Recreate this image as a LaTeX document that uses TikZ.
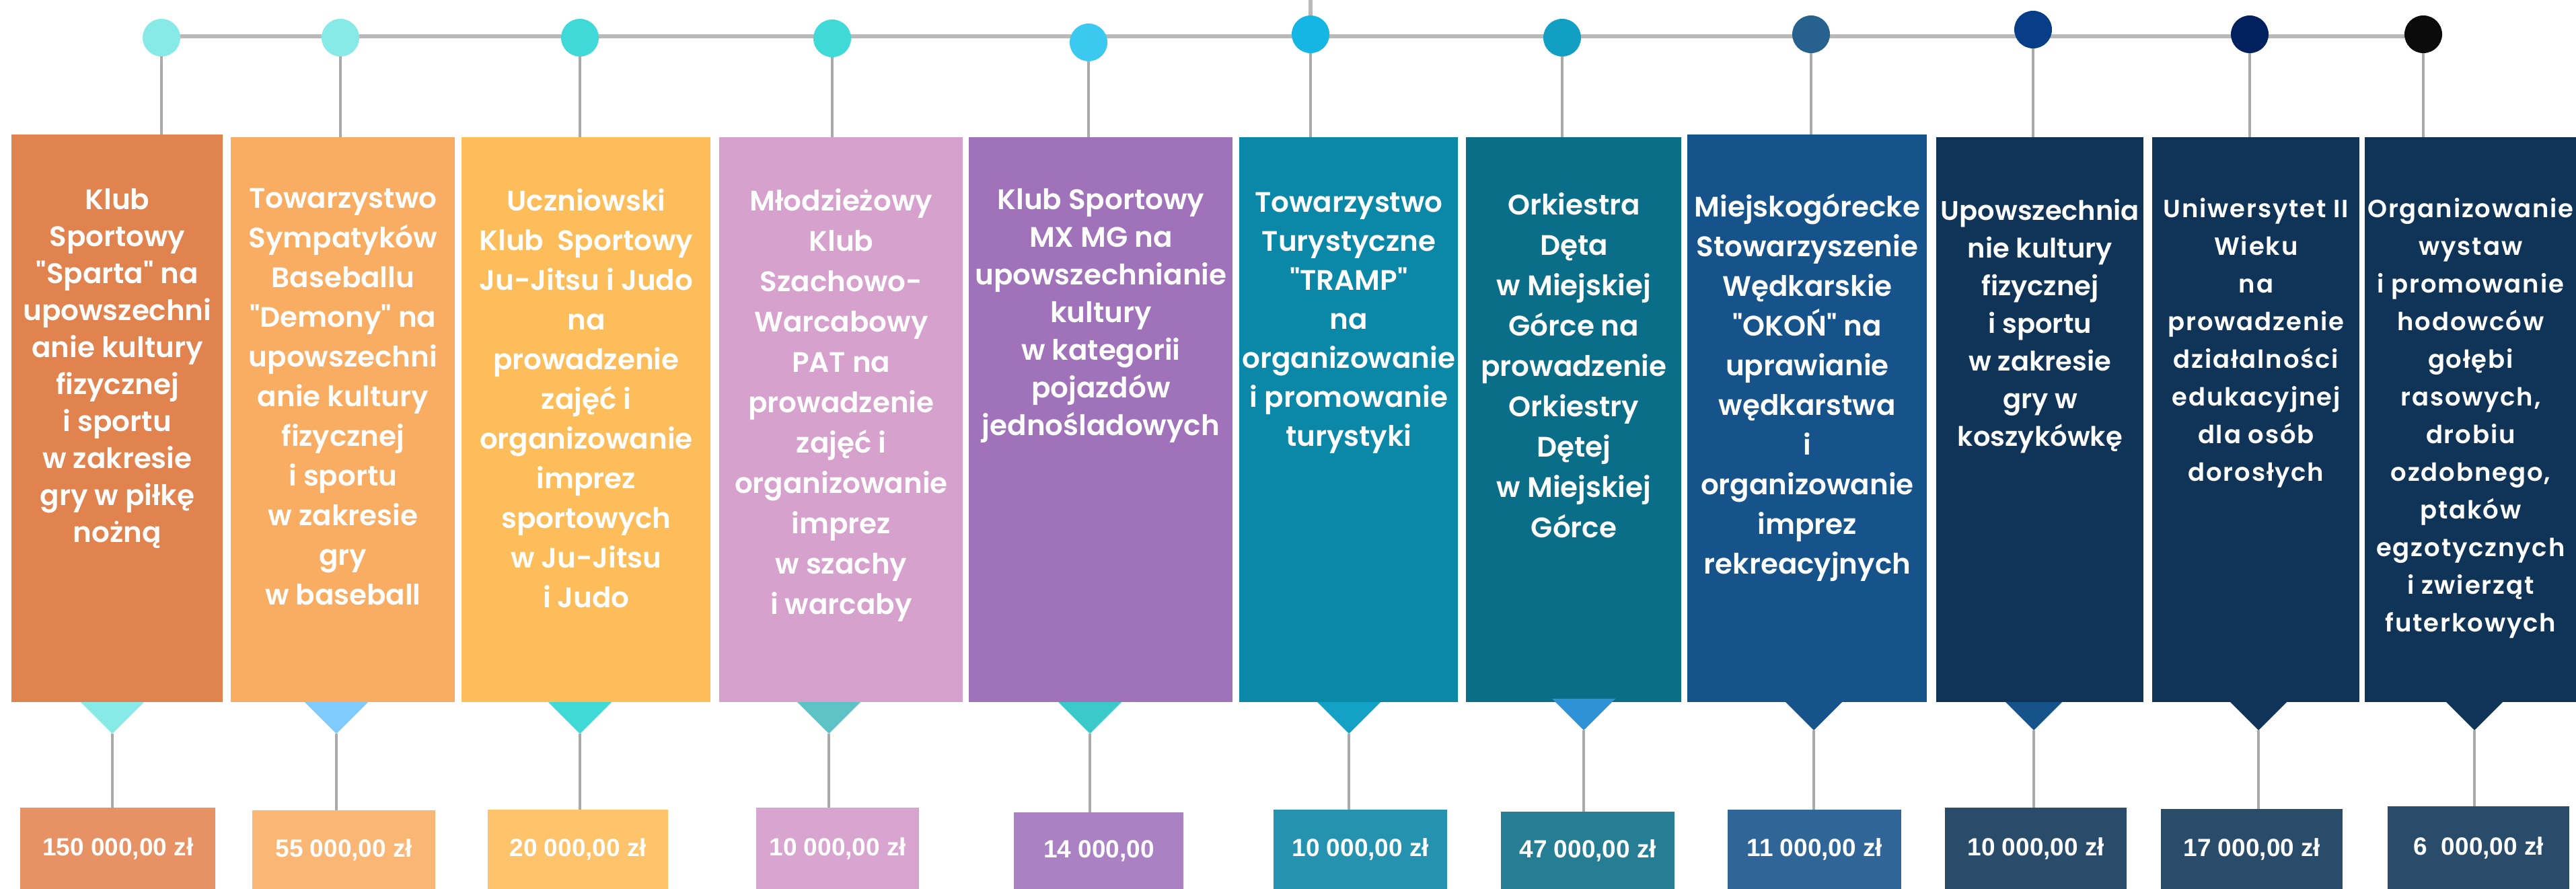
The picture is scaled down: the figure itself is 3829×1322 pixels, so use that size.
\documentclass[tikz,border=0pt]{standalone}
\usepackage{fontspec}
\setmainfont{Poppins}
\newfontfamily\panelfont{Poppins SemiBold}
\newfontfamily\widepanelfont[LetterSpace=5]{Poppins SemiBold}
\newfontfamily\sumfont{Liberation Sans}
\usetikzlibrary{backgrounds}

\definecolor{railgray}{HTML}{B9B9B9}
\definecolor{stemgray}{HTML}{AAAAAA}
\definecolor{kOrange}{HTML}{E0834F}
\definecolor{kApricot}{HTML}{F8AD62}
\definecolor{kAmber}{HTML}{FDBD5A}
\definecolor{kOrchid}{HTML}{D6A1CC}
\definecolor{kViolet}{HTML}{A072BA}
\definecolor{kTeal}{HTML}{0B88A8}
\definecolor{kPetrol}{HTML}{0B6E88}
\definecolor{kCobalt}{HTML}{15538A}
\definecolor{kNavy}{HTML}{0F3457}
\definecolor{sOrange}{HTML}{E69265}
\definecolor{sApricot}{HTML}{FAB674}
\definecolor{sAmber}{HTML}{FEC36B}
\definecolor{sOrchid}{HTML}{D8A5D0}
\definecolor{sViolet}{HTML}{AA82C4}
\definecolor{sTeal}{HTML}{2592B0}
\definecolor{sPetrol}{HTML}{267E94}
\definecolor{sCobalt}{HTML}{306598}
\definecolor{sNavy}{HTML}{294C6B}
\definecolor{dAqua}{HTML}{88EAE7}
\definecolor{dTurq}{HTML}{3FD9D8}
\definecolor{dSky}{HTML}{3BC9EF}
\definecolor{dCyan}{HTML}{14B7E4}
\definecolor{dCerul}{HTML}{119FC4}
\definecolor{dSteel}{HTML}{27628F}
\definecolor{dRoyal}{HTML}{083D88}
\definecolor{dMidnight}{HTML}{00205E}
\definecolor{dBlack}{HTML}{0B0B0B}
\definecolor{tBlue}{HTML}{7FCAFE}
\definecolor{tSea}{HTML}{5EC3C4}
\definecolor{tMint}{HTML}{3BCACA}
\definecolor{tCerul}{HTML}{13A2C5}
\definecolor{tAzure}{HTML}{2E92D6}

\tikzset{
  bead/.style={circle, inner sep=0pt, minimum size=28pt},
  panel/.style={rectangle, inner sep=0pt, anchor=north west},
  blurb/.style={anchor=north, inner sep=0pt, align=center, text=white,
    font=\panelfont\fontsize{21}{#1}\selectfont},
  blurb/.default=28,
  wideblurb/.style={blurb, font=\widepanelfont\fontsize{18.5}{28}\selectfont},
  amount/.style={rectangle, inner sep=0pt, anchor=north west, text=white,
    font=\sumfont\bfseries\fontsize{18.5}{20}\selectfont},
  rail/.style={draw=railgray, line width=3pt},
  stem/.style={draw=stemgray, line width=2pt},
}

\begin{document}
\begin{tikzpicture}[x=0.5pt, y=-0.5pt]
\useasboundingbox (0,0) rectangle (3829,1322);

\node[bead, fill=dAqua] (c1) at (240,56) {};
\node[bead, fill=dAqua] (c2) at (506,56) {};
\node[bead, fill=dTurq] (c3) at (862,56) {};
\node[bead, fill=dTurq] (c4) at (1237,57) {};
\node[bead, fill=dSky] (c5) at (1618,63) {};
\node[bead, fill=dCyan] (c6) at (1948,51) {};
\node[bead, fill=dCerul] (c7) at (2322,56) {};
\node[bead, fill=dSteel] (c8) at (2692,51) {};
\node[bead, fill=dRoyal] (c9) at (3022,44) {};
\node[bead, fill=dMidnight] (c10) at (3344,51) {};
\node[bead, fill=dBlack] (c11) at (3602,51) {};

\node[panel, fill=kOrange, minimum width=157pt, minimum height=422pt] (b1) at (17,200) {};
\node[panel, fill=kApricot, minimum width=166.5pt, minimum height=420pt] (b2) at (343,204) {};
\node[panel, fill=kAmber, minimum width=185pt, minimum height=420pt] (b3) at (686,204) {};
\node[panel, fill=kOrchid, minimum width=181pt, minimum height=420pt] (b4) at (1069,204) {};
\node[panel, fill=kViolet, minimum width=196pt, minimum height=420pt] (b5) at (1440,204) {};
\node[panel, fill=kTeal, minimum width=162.5pt, minimum height=420pt] (b6) at (1842,204) {};
\node[panel, fill=kPetrol, minimum width=160pt, minimum height=420pt] (b7) at (2179,204) {};
\node[panel, fill=kCobalt, minimum width=178pt, minimum height=422pt] (b8) at (2508,200) {};
\node[panel, fill=kNavy, minimum width=154pt, minimum height=420pt] (b9) at (2878,204) {};
\node[panel, fill=kNavy, minimum width=154pt, minimum height=420pt] (b10) at (3199,204) {};
\node[panel, fill=kNavy, minimum width=157pt, minimum height=420pt] (b11) at (3515,204) {};

\node[blurb=27.5] (n1) at ([yshift=-40pt]b1.north) {Klub\\Sportowy\\"Sparta" na\\upowszechni\\anie kultury\\fizycznej\\i sportu\\w zakresie\\gry w piłkę\\nożną};
\node[blurb=29.5] (n2) at ([yshift=-38pt]b2.north) {Towarzystwo\\Sympatyków\\Baseballu\\"Demony" na\\upowszechni\\anie kultury\\fizycznej\\i sportu\\w zakresie\\gry\\w baseball};
\node[blurb=29.5] (n3) at ([yshift=-38pt]b3.north) {Uczniowski\\Klub~~Sportowy\\Ju-Jitsu i Judo\\na\\prowadzenie\\zajęć i\\organizowanie\\imprez\\sportowych\\w Ju-Jitsu\\i Judo};
\node[blurb=30] (n4) at ([yshift=-38pt]b4.north) {Młodzieżowy\\Klub\\Szachowo-\\Warcabowy\\PAT na\\prowadzenie\\zajęć i\\organizowanie\\imprez\\w szachy\\i warcaby};
\node[blurb=28] (n5) at ([yshift=-38pt]b5.north) {Klub Sportowy\\MX MG na\\upowszechnianie\\kultury\\w kategorii\\pojazdów\\jednośladowych};
\node[blurb=29] (n6) at ([yshift=-41pt]b6.north) {Towarzystwo\\Turystyczne\\"TRAMP"\\na\\organizowanie\\i promowanie\\turystyki};
\node[blurb=30] (n7) at ([yshift=-41pt]b7.north) {Orkiestra\\Dęta\\w Miejskiej\\Górce na\\prowadzenie\\Orkiestry\\Dętej\\w Miejskiej\\Górce};
\node[blurb=29.5] (n8) at ([yshift=-44pt]b8.north) {Miejskogórecke\\Stowarzyszenie\\Wędkarskie\\"OKOŃ" na\\uprawianie\\wędkarstwa\\i\\organizowanie\\imprez\\rekreacyjnych};
\node[blurb, font=\panelfont\fontsize{20}{28}\selectfont] (n9) at ([yshift=-46pt]b9.north) {Upowszechnia\\nie kultury\\fizycznej\\i sportu\\w zakresie\\gry w\\koszykówkę};
\node[wideblurb] (n10) at ([yshift=-45pt]b10.north) {Uniwersytet II\\Wieku\\na\\prowadzenie\\działalności\\edukacyjnej\\dla osób\\dorosłych};
\node[wideblurb] (n11) at ([yshift=-45pt]b11.north) {Organizowanie\\wystaw\\i promowanie\\hodowców\\gołębi\\rasowych,\\drobiu\\ozdobnego,\\ptaków\\egzotycznych\\i zwierząt\\futerkowych};

\coordinate (a1) at (167,1091);
\coordinate (a2) at (500,1091);
\coordinate (a3) at (862,1091);
\coordinate (a4) at (1232,1091);
\coordinate (a5) at (1620,1091);
\coordinate (a6) at (2005,1091);
\coordinate (a7) at (2354,1086);
\coordinate (a8) at (2696,1086);
\coordinate (a9) at (3023,1086);
\coordinate (a10) at (3357,1086);
\coordinate (a11) at (3678,1086);
\fill[dAqua] (a1) -- ++(-23.5pt,23.5pt) -- ++(47pt,0pt) -- cycle;
\fill[tBlue] (a2) -- ++(-23.5pt,23.5pt) -- ++(47pt,0pt) -- cycle;
\fill[dTurq] (a3) -- ++(-23.5pt,23.5pt) -- ++(47pt,0pt) -- cycle;
\fill[tSea] (a4) -- ++(-23.5pt,23.5pt) -- ++(47pt,0pt) -- cycle;
\fill[tMint] (a5) -- ++(-23.5pt,23.5pt) -- ++(47pt,0pt) -- cycle;
\fill[tCerul] (a6) -- ++(-23.5pt,23.5pt) -- ++(47pt,0pt) -- cycle;
\fill[tAzure] (a7) -- ++(-23.5pt,23.5pt) -- ++(47pt,0pt) -- cycle;
\fill[kCobalt] (a8) -- ++(-21pt,21pt) -- ++(42pt,0pt) -- cycle;
\fill[kCobalt] (a9) -- ++(-21pt,21pt) -- ++(42pt,0pt) -- cycle;
\fill[kNavy] (a10) -- ++(-21pt,21pt) -- ++(42pt,0pt) -- cycle;
\fill[kNavy] (a11) -- ++(-21pt,21pt) -- ++(42pt,0pt) -- cycle;

\node[amount, fill=sOrange, minimum width=145pt, minimum height=60.5pt] (v1) at (30,1201) {150 000,00 zł};
\node[amount, fill=sApricot, minimum width=136pt, minimum height=58.5pt] (v2) at (375,1205) {55 000,00 zł};
\node[amount, fill=sAmber, minimum width=134pt, minimum height=59pt] (v3) at (725,1204) {20 000,00 zł};
\node[amount, fill=sOrchid, minimum width=121pt, minimum height=60.5pt] (v4) at (1124,1201) {10 000,00 zł};
\node[amount, fill=sViolet, minimum width=126pt, minimum height=57pt] (v5) at (1507,1208) {14 000,00};
\node[amount, fill=sTeal, minimum width=129pt, minimum height=59pt] (v6) at (1893,1204) {10 000,00 zł};
\node[amount, fill=sPetrol, minimum width=129pt, minimum height=57.5pt] (v7) at (2231,1207) {47 000,00 zł};
\node[amount, fill=sCobalt, minimum width=129pt, minimum height=59pt] (v8) at (2568,1204) {11 000,00 zł};
\node[amount, fill=sNavy, minimum width=135pt, minimum height=60.5pt] (v9) at (2891,1201) {10 000,00 zł};
\node[amount, fill=sNavy, minimum width=135pt, minimum height=59.5pt] (v10) at (3212,1203) {17 000,00 zł};
\node[amount, fill=sNavy, minimum width=135pt, minimum height=61.5pt] (v11) at (3549,1199) {6~~000,00 zł};

\begin{scope}[on background layer]
\coordinate (r0) at (240,54);
\coordinate (r1) at (3602,54);
\coordinate (r2) at (1948,0);
\draw[rail] (r0) -- (r1);
\draw[rail] (c6) -- (r2);
\draw[stem] (c1) -- (c1 |- b1.north);
\draw[stem] (c2) -- (c2 |- b2.north);
\draw[stem] (c3) -- (c3 |- b3.north);
\draw[stem] (c4) -- (c4 |- b4.north);
\draw[stem] (c5) -- (c5 |- b5.north);
\draw[stem] (c6) -- (c6 |- b6.north);
\draw[stem] (c7) -- (c7 |- b7.north);
\draw[stem] (c8) -- (c8 |- b8.north);
\draw[stem] (c9) -- (c9 |- b9.north);
\draw[stem] (c10) -- (c10 |- b10.north);
\draw[stem] (c11) -- (c11 |- b11.north);
\draw[stem] (a1) -- (a1 |- v1.north);
\draw[stem] (a2) -- (a2 |- v2.north);
\draw[stem] (a3) -- (a3 |- v3.north);
\draw[stem] (a4) -- (a4 |- v4.north);
\draw[stem] (a5) -- (a5 |- v5.north);
\draw[stem] (a6) -- (a6 |- v6.north);
\draw[stem] (a7) -- (a7 |- v7.north);
\draw[stem] (a8) -- (a8 |- v8.north);
\draw[stem] (a9) -- (a9 |- v9.north);
\draw[stem] (a10) -- (a10 |- v10.north);
\draw[stem] (a11) -- (a11 |- v11.north);
\end{scope}
\end{tikzpicture}
\end{document}
